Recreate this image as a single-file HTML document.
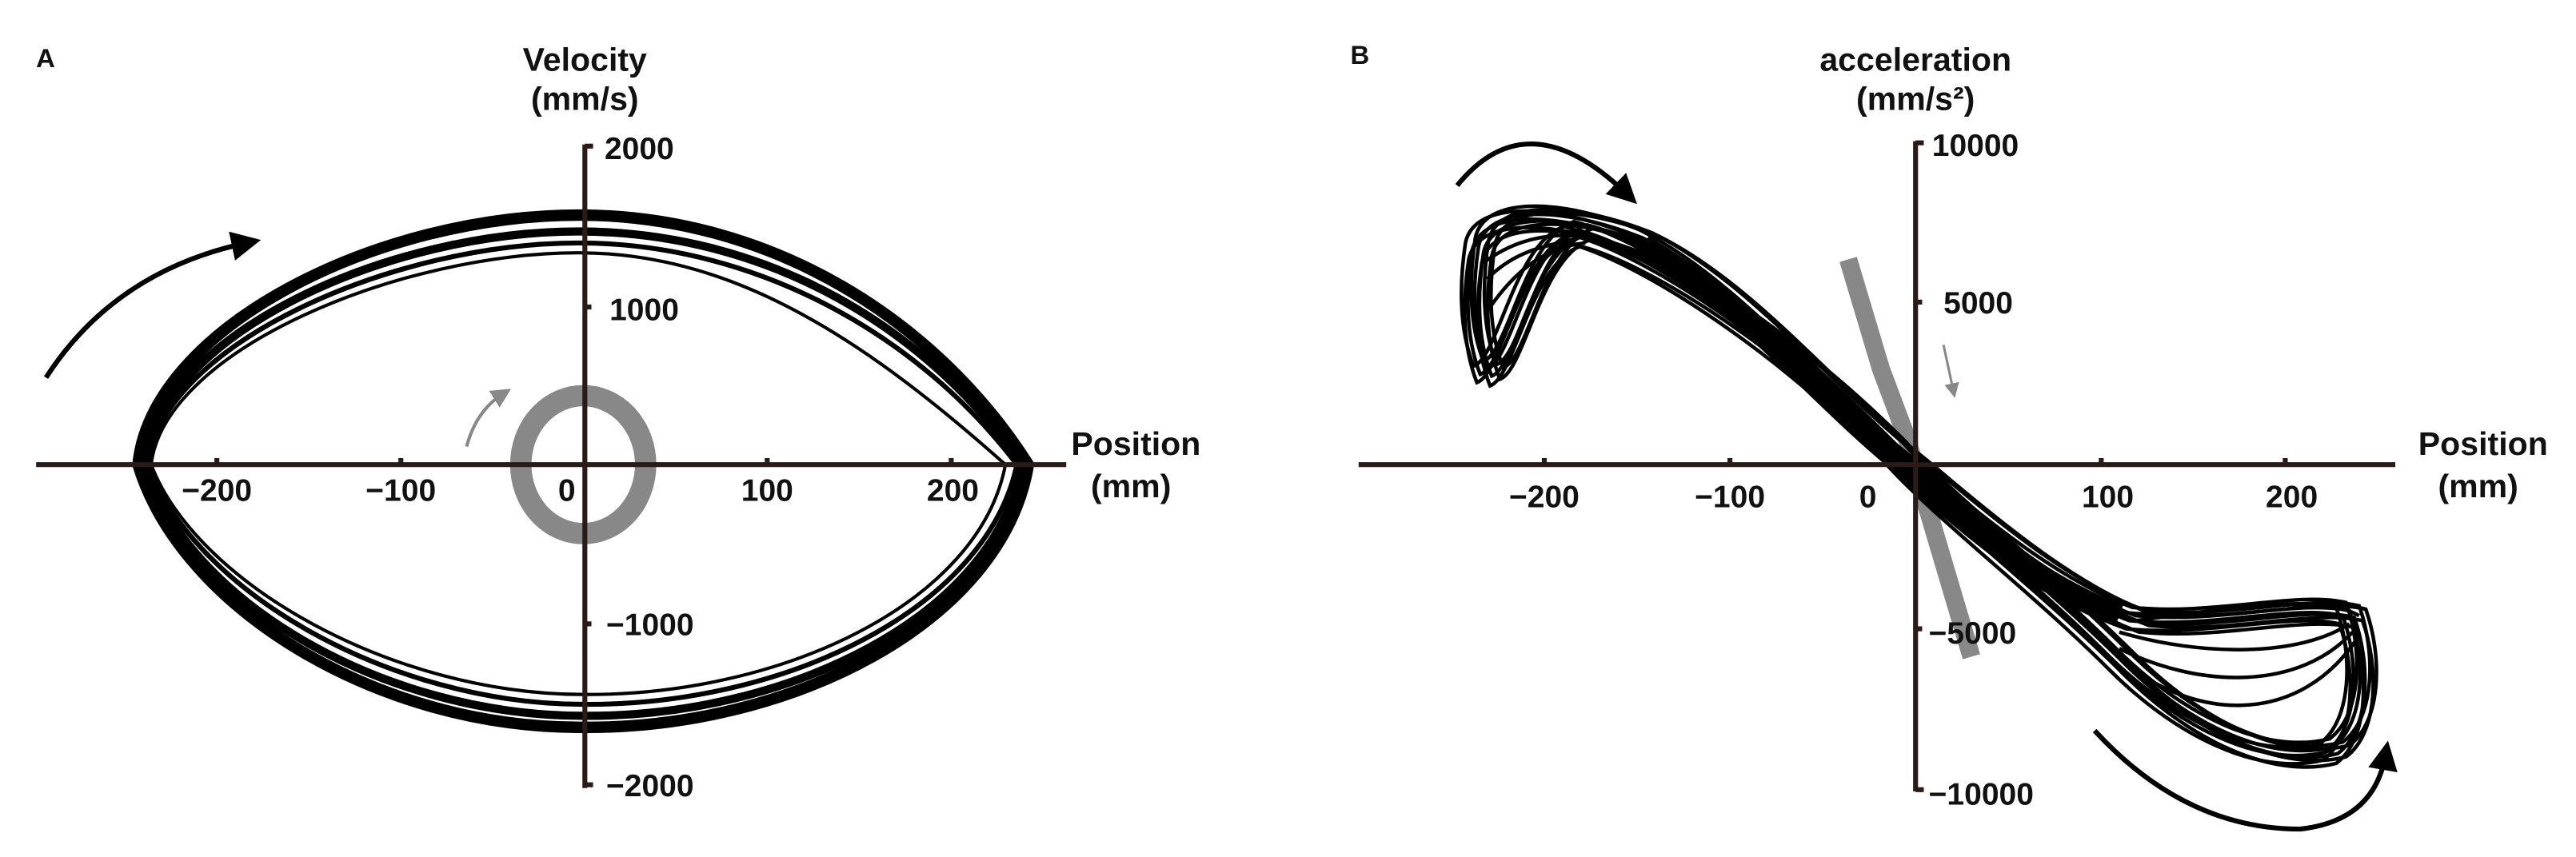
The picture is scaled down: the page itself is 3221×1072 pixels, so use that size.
<!DOCTYPE html>
<html><head><meta charset="utf-8"><style>
html,body{margin:0;padding:0;background:#fff;}
svg{display:block;}
text{font-family:"Liberation Sans",sans-serif;font-weight:bold;fill:#111;}
</style></head><body>
<svg width="3221" height="1072" viewBox="0 0 1568 522" preserveAspectRatio="none" xmlns="http://www.w3.org/2000/svg">
<defs>
<marker id="ah" markerWidth="6" markerHeight="6" refX="3" refY="3" orient="auto" markerUnits="strokeWidth"><path d="M0,0 L6,3 L0,6 Z" fill="#000"/></marker>
<marker id="ahg" markerWidth="6" markerHeight="6" refX="3" refY="3" orient="auto" markerUnits="strokeWidth"><path d="M0,0 L6,3 L0,6 Z" fill="#888"/></marker>
</defs>
<rect width="1568" height="522" fill="#fff"/>
<!-- Panel A -->
<text x="22" y="41" font-size="16">A</text>
<text x="356" y="43" font-size="20" text-anchor="middle">Velocity</text>
<text x="356" y="67" font-size="20" text-anchor="middle">(mm/s)</text>
<g fill="none" stroke="#000">
<path d="M84 283 C92 200 230 130 355 131 C470 132 570 195 626 283 C610 380 480 444 355 443 C230 444 110 370 84 283 Z" stroke-width="7"/>
<path d="M88 283 C96 205 235 140 355 141 C468 142 565 200 622 283 C606 376 478 437 355 436 C233 436 114 366 88 283 Z" stroke-width="5"/>
<path d="M90 283 C98 210 240 147 355 148 C462 149 560 205 619 283 C600 372 476 430 355 429 C238 429 118 360 90 283 Z" stroke-width="3"/>
<path d="M92 283 C100 213 245 153 355 154 C450 155 530 210 612 283 C596 368 474 424 355 423 C240 423 120 356 92 283 Z" stroke-width="2"/>
</g>
<ellipse cx="355" cy="283" rx="38" ry="42" fill="none" stroke="#888" stroke-width="13"/>
<path d="M28 230 Q70 165 150 148" fill="none" stroke="#000" stroke-width="3" marker-end="url(#ah)"/>
<path d="M284 272 Q290 250 306 240" fill="none" stroke="#888" stroke-width="2" marker-end="url(#ahg)"/>
<g stroke="#2a1a18" stroke-width="3" fill="none">
<line x1="22" y1="283" x2="649" y2="283"/>
<line x1="356" y1="88" x2="356" y2="480"/>
<line x1="356" y1="89" x2="361" y2="89"/><line x1="356" y1="187" x2="360" y2="187"/>
<line x1="356" y1="380" x2="360" y2="380"/><line x1="356" y1="478" x2="361" y2="478"/>
<line x1="132" y1="283" x2="132" y2="279"/><line x1="244" y1="283" x2="244" y2="279"/>
<line x1="467" y1="283" x2="467" y2="279"/><line x1="579" y1="283" x2="579" y2="279"/>
</g>
<g font-size="19">
<text x="368" y="97">2000</text><text x="371" y="195">1000</text>
<text x="369" y="387">−1000</text><text x="369" y="485">−2000</text>
<text x="132" y="305" text-anchor="middle">−200</text><text x="244" y="305" text-anchor="middle">−100</text>
<text x="345" y="305" text-anchor="middle">0</text><text x="467" y="305" text-anchor="middle">100</text>
<text x="580" y="305" text-anchor="middle">200</text>
<text x="652" y="277" font-size="20">Position</text><text x="664" y="303" font-size="20">(mm)</text>
</g>
<!-- Panel B -->
<text x="822" y="39" font-size="16">B</text>
<text x="1166" y="43" font-size="20" text-anchor="middle">acceleration</text>
<text x="1166" y="67" font-size="20" text-anchor="middle">(mm/s²)</text>
<path d="M1125 158 L1145 225 L1160 265 L1200 400" stroke="#888" stroke-width="11" fill="none" stroke-linejoin="round"/>
<g fill="none" stroke="#000" stroke-width="2.2">
<path id="lp" d="M900 150 C905 125 950 125 1000 145 C1060 175 1110 240 1165 283 C1220 330 1260 360 1300 375 C1350 380 1400 365 1430 372 C1440 400 1440 440 1420 455 C1380 465 1330 440 1290 400 C1240 350 1180 305 1150 270 C1080 200 1000 150 960 140 C930 150 920 220 905 225 C895 200 897 170 900 150 Z"/>
<use href="#lp" transform="translate(3,4)"/>
<use href="#lp" transform="translate(-4,3)"/>
<use href="#lp" transform="translate(6,-3)"/>
<use href="#lp" transform="translate(-2,-5)"/>
<use href="#lp" transform="translate(8,6)"/>
<use href="#lp" transform="translate(-6,8)"/>
<use href="#lp" transform="translate(2,10)"/>
<use href="#lp" transform="translate(10,-1)"/>
<use href="#lp" transform="translate(-8,-2)"/>
<path d="M905 170 C925 150 945 150 960 145 M905 190 C925 160 945 150 965 148 M903 160 C930 140 960 140 985 150"/>
<path d="M1290 385 C1340 400 1400 400 1430 380 M1290 395 C1340 420 1400 420 1432 385 M1295 405 C1340 440 1400 440 1434 390 M1300 378 C1350 372 1410 360 1436 375"/>
<path d="M1000 150 C1060 185 1120 245 1165 290 C1215 335 1250 360 1290 375" stroke-width="14"/>
</g>
<path d="M1183 210 L1189 238" stroke="#888" stroke-width="1.5" fill="none" marker-end="url(#ahg)"/>
<path d="M887 113 Q930 60 990 118" fill="none" stroke="#000" stroke-width="3" marker-end="url(#ah)"/>
<path d="M1275 445 Q1330 505 1400 505 Q1445 500 1452 460" fill="none" stroke="#000" stroke-width="3" marker-end="url(#ah)"/>
<g stroke="#2a1a18" stroke-width="3" fill="none">
<line x1="827" y1="283" x2="1458" y2="283"/>
<line x1="1166" y1="86" x2="1166" y2="482"/>
<line x1="1166" y1="87" x2="1171" y2="87"/><line x1="1166" y1="184" x2="1170" y2="184"/>
<line x1="1166" y1="383" x2="1170" y2="383"/><line x1="1166" y1="481" x2="1171" y2="481"/>
<line x1="940" y1="283" x2="940" y2="279"/><line x1="1053" y1="283" x2="1053" y2="279"/>
<line x1="1279" y1="283" x2="1279" y2="279"/><line x1="1391" y1="283" x2="1391" y2="279"/>
</g>
<g font-size="19">
<text x="1176" y="95">10000</text><text x="1183" y="191">5000</text>
<text x="1174" y="392">−5000</text><text x="1174" y="490">−10000</text>
<text x="940" y="309" text-anchor="middle">−200</text><text x="1053" y="309" text-anchor="middle">−100</text>
<text x="1137" y="309" text-anchor="middle">0</text><text x="1283" y="309" text-anchor="middle">100</text>
<text x="1395" y="309" text-anchor="middle">200</text>
<text x="1472" y="277" font-size="20">Position</text><text x="1484" y="303" font-size="20">(mm)</text>
</g>
</svg>
</body></html>
